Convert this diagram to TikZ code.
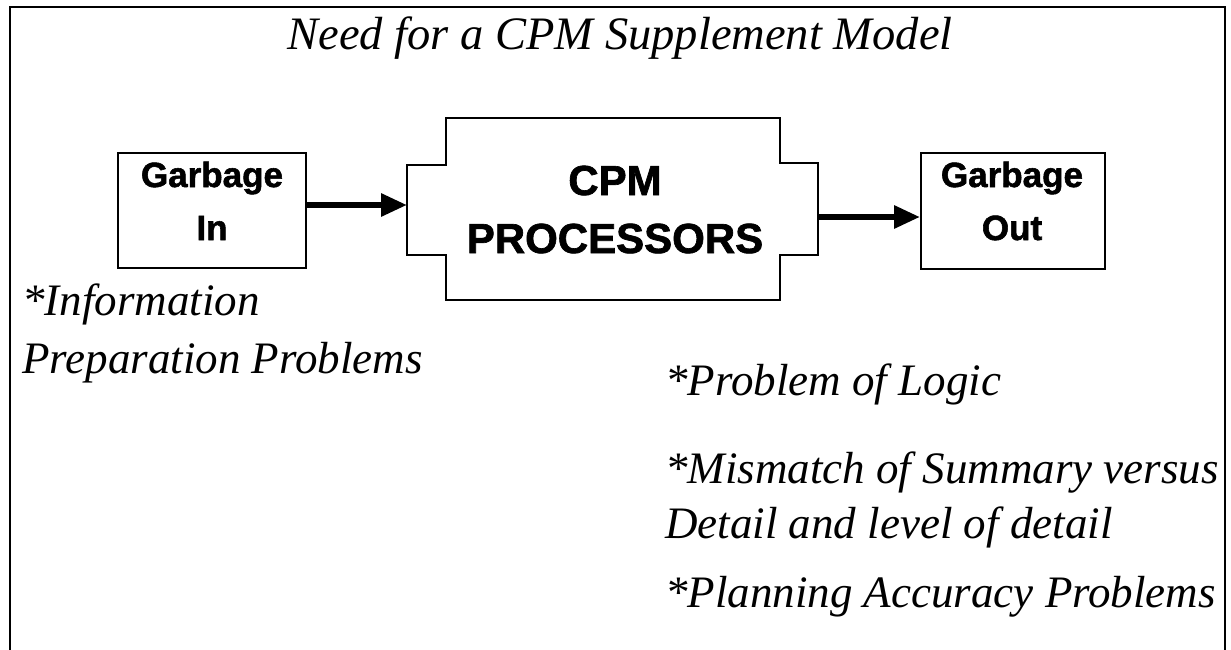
\documentclass[tikz,border=0pt]{standalone}
\usepackage{fontspec}
\setmainfont{Liberation Serif}
\newfontfamily\boxfont{Liberation Sans}[BoldFeatures={FakeBold=1.6}]
\usetikzlibrary{arrows.meta}
\begin{document}
\begin{tikzpicture}[x=1pt,y=-1pt,
  frame/.style={line width=2.5pt, line join=miter},
  boxline/.style={draw, line width=2pt, line join=miter},
  plainbox/.style={boxline, rectangle, inner sep=0pt},
  boxtext/.style={inner sep=0pt, anchor=base, font=\boxfont\bfseries\fontsize{35}{53}\selectfont},
  cpmtext/.style={inner sep=0pt, anchor=base, font=\boxfont\bfseries\fontsize{42}{58}\selectfont},
  note/.style={inner sep=0pt, anchor=base west, font=\itshape\fontsize{45}{58}\selectfont},
  flow/.style={line width=6pt, -{Triangle[length=26pt,width=22pt]}}
]
\useasboundingbox (0,0) rectangle (1231,650);
% outer frame (open at the bottom)
\draw[frame] (10,650) -- (10,7) -- (1225,7) -- (1225,650);

% title
\node[note, anchor=base, font=\itshape\fontsize{46.5}{56}\selectfont] (title) at (620,50) {Need for a CPM Supplement Model};

% Garbage In
\node[plainbox, minimum width=188pt, minimum height=115pt] (gin) at (212,210.5) {};
\node[boxtext] (gintext) at (212,187) {\begin{tabular}[t]{@{}c@{}}Garbage\\In\end{tabular}};

% CPM processors shape
\draw[boxline] (446,118) -- (780,118) -- (780,163) -- (818,163) -- (818,255)
  -- (780,255) -- (780,300) -- (446,300) -- (446,255) -- (407,255)
  -- (407,165) -- (446,165) -- cycle;
\node[minimum width=334pt, minimum height=182pt, inner sep=0pt] (cpm) at (613,209) {};
\node[cpmtext] (cpmtxt) at (615,195) {\begin{tabular}[t]{@{}c@{}}CPM\\PROCESSORS\end{tabular}};
\coordinate (cpmin) at (407,205);
\coordinate (cpmout) at (818,217);

% Garbage Out
\node[plainbox, minimum width=184pt, minimum height=116pt] (gout) at (1013,211) {};
\node[boxtext] (gouttext) at (1012,187) {\begin{tabular}[t]{@{}c@{}}Garbage\\Out\end{tabular}};

% connectors
\draw[flow] (gin.east |- cpmin) -- (cpmin);
\draw[flow] (cpmout) -- (gout.west |- cpmout);

% notes
\node[note] (info) at (22,315) {\begin{tabular}[t]{@{}l@{}}*Information\\Preparation Problems\end{tabular}};
\node[note] (logic) at (665,395) {*Problem of Logic};
\node[note, font=\itshape\fontsize{45}{55}\selectfont] (mismatch) at (665,483) {\begin{tabular}[t]{@{}l@{}}*Mismatch of Summary versus\\Detail and level of detail\end{tabular}};
\node[note] (planning) at (665,607) {*Planning Accuracy Problems};
\end{tikzpicture}
\end{document}
